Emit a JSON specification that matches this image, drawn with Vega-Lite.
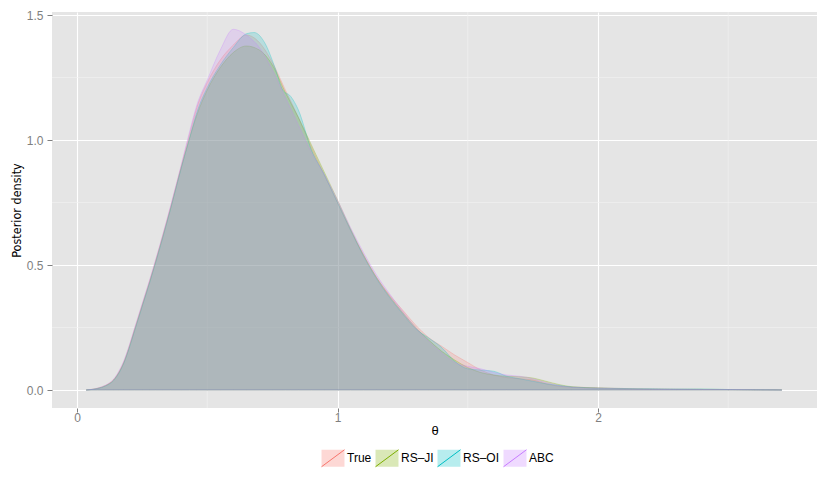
{
  "$schema": "https://vega.github.io/schema/vega-lite/v6.json",
  "width": 765,
  "height": 396,
  "autosize": {"type": "none"},
  "padding": {"left": 52, "top": 12, "right": 13, "bottom": 77},
  "background": "white",
  "config": {
    "view": {"fill": "#E5E5E5", "stroke": null},
    "font": "Liberation Sans"
  },
  "datasets": {
    "xminor": [{"v": 0.5}, {"v": 1.5}, {"v": 2.5}],
    "yminor": [{"v": 0.25}, {"v": 0.75}, {"v": 1.25}],
    "dens": [
      {"method": "True", "theta": 0.035, "density": 0},
      {"method": "True", "theta": 0.08, "density": 0.007},
      {"method": "True", "theta": 0.11, "density": 0.018},
      {"method": "True", "theta": 0.14, "density": 0.04},
      {"method": "True", "theta": 0.16, "density": 0.07},
      {"method": "True", "theta": 0.18, "density": 0.113},
      {"method": "True", "theta": 0.2, "density": 0.172},
      {"method": "True", "theta": 0.22, "density": 0.24},
      {"method": "True", "theta": 0.25, "density": 0.34},
      {"method": "True", "theta": 0.28, "density": 0.44},
      {"method": "True", "theta": 0.3, "density": 0.51},
      {"method": "True", "theta": 0.33, "density": 0.62},
      {"method": "True", "theta": 0.36, "density": 0.735},
      {"method": "True", "theta": 0.4, "density": 0.895},
      {"method": "True", "theta": 0.43, "density": 1.015},
      {"method": "True", "theta": 0.46, "density": 1.13},
      {"method": "True", "theta": 0.5, "density": 1.23},
      {"method": "True", "theta": 0.55, "density": 1.32},
      {"method": "True", "theta": 0.6, "density": 1.38},
      {"method": "True", "theta": 0.65, "density": 1.42},
      {"method": "True", "theta": 0.7, "density": 1.39},
      {"method": "True", "theta": 0.75, "density": 1.31},
      {"method": "True", "theta": 0.8, "density": 1.2},
      {"method": "True", "theta": 0.85, "density": 1.09},
      {"method": "True", "theta": 0.9, "density": 0.97},
      {"method": "True", "theta": 0.95, "density": 0.86},
      {"method": "True", "theta": 1.0, "density": 0.75},
      {"method": "True", "theta": 1.05, "density": 0.64},
      {"method": "True", "theta": 1.1, "density": 0.54},
      {"method": "True", "theta": 1.15, "density": 0.45},
      {"method": "True", "theta": 1.2, "density": 0.38},
      {"method": "True", "theta": 1.25, "density": 0.32},
      {"method": "True", "theta": 1.3, "density": 0.26},
      {"method": "True", "theta": 1.35, "density": 0.21},
      {"method": "True", "theta": 1.4, "density": 0.175},
      {"method": "True", "theta": 1.45, "density": 0.14},
      {"method": "True", "theta": 1.5, "density": 0.11},
      {"method": "True", "theta": 1.55, "density": 0.08},
      {"method": "True", "theta": 1.6, "density": 0.06},
      {"method": "True", "theta": 1.65, "density": 0.05},
      {"method": "True", "theta": 1.7, "density": 0.045},
      {"method": "True", "theta": 1.75, "density": 0.04},
      {"method": "True", "theta": 1.8, "density": 0.025},
      {"method": "True", "theta": 1.85, "density": 0.015},
      {"method": "True", "theta": 1.9, "density": 0.012},
      {"method": "True", "theta": 2.0, "density": 0.009},
      {"method": "True", "theta": 2.1, "density": 0.006},
      {"method": "True", "theta": 2.2, "density": 0.004},
      {"method": "True", "theta": 2.3, "density": 0.003},
      {"method": "True", "theta": 2.4, "density": 0.002},
      {"method": "True", "theta": 2.5, "density": 0.002},
      {"method": "True", "theta": 2.6, "density": 0.001},
      {"method": "True", "theta": 2.706, "density": 0},

      {"method": "RS–JI", "theta": 0.035, "density": 0},
      {"method": "RS–JI", "theta": 0.08, "density": 0.007},
      {"method": "RS–JI", "theta": 0.11, "density": 0.018},
      {"method": "RS–JI", "theta": 0.14, "density": 0.04},
      {"method": "RS–JI", "theta": 0.16, "density": 0.069},
      {"method": "RS–JI", "theta": 0.18, "density": 0.111},
      {"method": "RS–JI", "theta": 0.2, "density": 0.17},
      {"method": "RS–JI", "theta": 0.22, "density": 0.237},
      {"method": "RS–JI", "theta": 0.25, "density": 0.337},
      {"method": "RS–JI", "theta": 0.28, "density": 0.437},
      {"method": "RS–JI", "theta": 0.3, "density": 0.507},
      {"method": "RS–JI", "theta": 0.33, "density": 0.617},
      {"method": "RS–JI", "theta": 0.36, "density": 0.73},
      {"method": "RS–JI", "theta": 0.4, "density": 0.89},
      {"method": "RS–JI", "theta": 0.43, "density": 1.0},
      {"method": "RS–JI", "theta": 0.46, "density": 1.1},
      {"method": "RS–JI", "theta": 0.5, "density": 1.2},
      {"method": "RS–JI", "theta": 0.55, "density": 1.29},
      {"method": "RS–JI", "theta": 0.6, "density": 1.35},
      {"method": "RS–JI", "theta": 0.65, "density": 1.376},
      {"method": "RS–JI", "theta": 0.7, "density": 1.36},
      {"method": "RS–JI", "theta": 0.75, "density": 1.3},
      {"method": "RS–JI", "theta": 0.8, "density": 1.19},
      {"method": "RS–JI", "theta": 0.85, "density": 1.09},
      {"method": "RS–JI", "theta": 0.9, "density": 0.98},
      {"method": "RS–JI", "theta": 0.95, "density": 0.87},
      {"method": "RS–JI", "theta": 1.0, "density": 0.76},
      {"method": "RS–JI", "theta": 1.05, "density": 0.645},
      {"method": "RS–JI", "theta": 1.1, "density": 0.54},
      {"method": "RS–JI", "theta": 1.15, "density": 0.45},
      {"method": "RS–JI", "theta": 1.2, "density": 0.375},
      {"method": "RS–JI", "theta": 1.25, "density": 0.31},
      {"method": "RS–JI", "theta": 1.3, "density": 0.25},
      {"method": "RS–JI", "theta": 1.35, "density": 0.2},
      {"method": "RS–JI", "theta": 1.4, "density": 0.155},
      {"method": "RS–JI", "theta": 1.45, "density": 0.12},
      {"method": "RS–JI", "theta": 1.5, "density": 0.09},
      {"method": "RS–JI", "theta": 1.55, "density": 0.07},
      {"method": "RS–JI", "theta": 1.6, "density": 0.06},
      {"method": "RS–JI", "theta": 1.65, "density": 0.055},
      {"method": "RS–JI", "theta": 1.7, "density": 0.053},
      {"method": "RS–JI", "theta": 1.75, "density": 0.048},
      {"method": "RS–JI", "theta": 1.8, "density": 0.035},
      {"method": "RS–JI", "theta": 1.85, "density": 0.022},
      {"method": "RS–JI", "theta": 1.9, "density": 0.013},
      {"method": "RS–JI", "theta": 2.0, "density": 0.008},
      {"method": "RS–JI", "theta": 2.1, "density": 0.005},
      {"method": "RS–JI", "theta": 2.2, "density": 0.004},
      {"method": "RS–JI", "theta": 2.3, "density": 0.003},
      {"method": "RS–JI", "theta": 2.4, "density": 0.003},
      {"method": "RS–JI", "theta": 2.5, "density": 0.002},
      {"method": "RS–JI", "theta": 2.6, "density": 0.001},
      {"method": "RS–JI", "theta": 2.706, "density": 0},

      {"method": "RS–OI", "theta": 0.035, "density": 0},
      {"method": "RS–OI", "theta": 0.08, "density": 0.006},
      {"method": "RS–OI", "theta": 0.11, "density": 0.016},
      {"method": "RS–OI", "theta": 0.14, "density": 0.037},
      {"method": "RS–OI", "theta": 0.16, "density": 0.066},
      {"method": "RS–OI", "theta": 0.18, "density": 0.108},
      {"method": "RS–OI", "theta": 0.2, "density": 0.166},
      {"method": "RS–OI", "theta": 0.22, "density": 0.233},
      {"method": "RS–OI", "theta": 0.25, "density": 0.333},
      {"method": "RS–OI", "theta": 0.28, "density": 0.433},
      {"method": "RS–OI", "theta": 0.3, "density": 0.503},
      {"method": "RS–OI", "theta": 0.33, "density": 0.612},
      {"method": "RS–OI", "theta": 0.36, "density": 0.727},
      {"method": "RS–OI", "theta": 0.4, "density": 0.887},
      {"method": "RS–OI", "theta": 0.43, "density": 1.0},
      {"method": "RS–OI", "theta": 0.46, "density": 1.11},
      {"method": "RS–OI", "theta": 0.5, "density": 1.21},
      {"method": "RS–OI", "theta": 0.55, "density": 1.3},
      {"method": "RS–OI", "theta": 0.6, "density": 1.37},
      {"method": "RS–OI", "theta": 0.65, "density": 1.425},
      {"method": "RS–OI", "theta": 0.68, "density": 1.43},
      {"method": "RS–OI", "theta": 0.72, "density": 1.39},
      {"method": "RS–OI", "theta": 0.76, "density": 1.29},
      {"method": "RS–OI", "theta": 0.79, "density": 1.2},
      {"method": "RS–OI", "theta": 0.82, "density": 1.175},
      {"method": "RS–OI", "theta": 0.85, "density": 1.12},
      {"method": "RS–OI", "theta": 0.9, "density": 0.96},
      {"method": "RS–OI", "theta": 0.95, "density": 0.86},
      {"method": "RS–OI", "theta": 1.0, "density": 0.75},
      {"method": "RS–OI", "theta": 1.05, "density": 0.64},
      {"method": "RS–OI", "theta": 1.1, "density": 0.535},
      {"method": "RS–OI", "theta": 1.15, "density": 0.445},
      {"method": "RS–OI", "theta": 1.2, "density": 0.37},
      {"method": "RS–OI", "theta": 1.25, "density": 0.305},
      {"method": "RS–OI", "theta": 1.3, "density": 0.245},
      {"method": "RS–OI", "theta": 1.35, "density": 0.208},
      {"method": "RS–OI", "theta": 1.4, "density": 0.17},
      {"method": "RS–OI", "theta": 1.45, "density": 0.115},
      {"method": "RS–OI", "theta": 1.5, "density": 0.085},
      {"method": "RS–OI", "theta": 1.55, "density": 0.08},
      {"method": "RS–OI", "theta": 1.6, "density": 0.075},
      {"method": "RS–OI", "theta": 1.65, "density": 0.055},
      {"method": "RS–OI", "theta": 1.7, "density": 0.045},
      {"method": "RS–OI", "theta": 1.75, "density": 0.035},
      {"method": "RS–OI", "theta": 1.8, "density": 0.025},
      {"method": "RS–OI", "theta": 1.85, "density": 0.018},
      {"method": "RS–OI", "theta": 1.9, "density": 0.012},
      {"method": "RS–OI", "theta": 2.0, "density": 0.008},
      {"method": "RS–OI", "theta": 2.1, "density": 0.006},
      {"method": "RS–OI", "theta": 2.2, "density": 0.005},
      {"method": "RS–OI", "theta": 2.3, "density": 0.004},
      {"method": "RS–OI", "theta": 2.4, "density": 0.004},
      {"method": "RS–OI", "theta": 2.5, "density": 0.002},
      {"method": "RS–OI", "theta": 2.6, "density": 0.001},
      {"method": "RS–OI", "theta": 2.706, "density": 0},

      {"method": "ABC", "theta": 0.035, "density": 0},
      {"method": "ABC", "theta": 0.08, "density": 0.008},
      {"method": "ABC", "theta": 0.11, "density": 0.02},
      {"method": "ABC", "theta": 0.14, "density": 0.043},
      {"method": "ABC", "theta": 0.16, "density": 0.074},
      {"method": "ABC", "theta": 0.18, "density": 0.118},
      {"method": "ABC", "theta": 0.2, "density": 0.177},
      {"method": "ABC", "theta": 0.22, "density": 0.245},
      {"method": "ABC", "theta": 0.25, "density": 0.345},
      {"method": "ABC", "theta": 0.28, "density": 0.445},
      {"method": "ABC", "theta": 0.3, "density": 0.515},
      {"method": "ABC", "theta": 0.33, "density": 0.625},
      {"method": "ABC", "theta": 0.36, "density": 0.74},
      {"method": "ABC", "theta": 0.4, "density": 0.9},
      {"method": "ABC", "theta": 0.43, "density": 1.025},
      {"method": "ABC", "theta": 0.46, "density": 1.14},
      {"method": "ABC", "theta": 0.5, "density": 1.24},
      {"method": "ABC", "theta": 0.55, "density": 1.36},
      {"method": "ABC", "theta": 0.6, "density": 1.443},
      {"method": "ABC", "theta": 0.65, "density": 1.42},
      {"method": "ABC", "theta": 0.7, "density": 1.37},
      {"method": "ABC", "theta": 0.75, "density": 1.28},
      {"method": "ABC", "theta": 0.8, "density": 1.17},
      {"method": "ABC", "theta": 0.85, "density": 1.06},
      {"method": "ABC", "theta": 0.9, "density": 0.95},
      {"method": "ABC", "theta": 0.95, "density": 0.86},
      {"method": "ABC", "theta": 1.0, "density": 0.76},
      {"method": "ABC", "theta": 1.05, "density": 0.65},
      {"method": "ABC", "theta": 1.1, "density": 0.55},
      {"method": "ABC", "theta": 1.15, "density": 0.46},
      {"method": "ABC", "theta": 1.2, "density": 0.385},
      {"method": "ABC", "theta": 1.25, "density": 0.315},
      {"method": "ABC", "theta": 1.3, "density": 0.25},
      {"method": "ABC", "theta": 1.35, "density": 0.195},
      {"method": "ABC", "theta": 1.4, "density": 0.15},
      {"method": "ABC", "theta": 1.45, "density": 0.11},
      {"method": "ABC", "theta": 1.5, "density": 0.095},
      {"method": "ABC", "theta": 1.55, "density": 0.085},
      {"method": "ABC", "theta": 1.6, "density": 0.07},
      {"method": "ABC", "theta": 1.65, "density": 0.06},
      {"method": "ABC", "theta": 1.7, "density": 0.055},
      {"method": "ABC", "theta": 1.75, "density": 0.045},
      {"method": "ABC", "theta": 1.8, "density": 0.03},
      {"method": "ABC", "theta": 1.85, "density": 0.018},
      {"method": "ABC", "theta": 1.9, "density": 0.011},
      {"method": "ABC", "theta": 2.0, "density": 0.007},
      {"method": "ABC", "theta": 2.1, "density": 0.005},
      {"method": "ABC", "theta": 2.2, "density": 0.004},
      {"method": "ABC", "theta": 2.3, "density": 0.003},
      {"method": "ABC", "theta": 2.4, "density": 0.002},
      {"method": "ABC", "theta": 2.5, "density": 0.002},
      {"method": "ABC", "theta": 2.6, "density": 0.001},
      {"method": "ABC", "theta": 2.706, "density": 0}
    ]
  },
  "layer": [
    {
      "data": {"name": "xminor"},
      "mark": {"type": "rule", "color": "#F2F2F2", "strokeWidth": 0.6},
      "encoding": {
        "x": {"field": "v", "type": "quantitative", "title": "θ",
              "scale": {"domain": [-0.096, 2.8407], "nice": false, "zero": false}}
      }
    },
    {
      "data": {"name": "yminor"},
      "mark": {"type": "rule", "color": "#F2F2F2", "strokeWidth": 0.6},
      "encoding": {
        "y": {"field": "v", "type": "quantitative", "title": "Posterior density",
              "scale": {"domain": [-0.072, 1.512], "nice": false, "zero": false}}
      }
    },
    {
      "data": {"name": "dens"},
      "mark": {"type": "area", "interpolate": "monotone", "fillOpacity": 0.2,
               "strokeOpacity": 0.45, "strokeWidth": 0.6},
      "encoding": {
        "x": {"field": "theta", "type": "quantitative", "title": "θ",
              "scale": {"domain": [-0.096, 2.8407], "nice": false, "zero": false},
              "axis": {"values": [0, 1, 2], "format": "d", "grid": true, "gridColor": "white", "gridWidth": 1.1,
                       "domain": false, "tickColor": "#7F7F7F", "tickSize": 4, "tickWidth": 1,
                       "labelColor": "#7F7F7F", "labelFontSize": 12, "labelPadding": 0,
                       "titleFont": "Liberation Sans", "titleFontSize": 13, "titleFontWeight": "normal",
                       "titleColor": "black", "titlePadding": 1}},
        "y": {"field": "density", "type": "quantitative", "title": "Posterior density",
              "scale": {"domain": [-0.072, 1.512], "nice": false, "zero": false},
              "axis": {"values": [0, 0.5, 1, 1.5], "format": ".1f", "grid": true, "gridColor": "white", "gridWidth": 1.1,
                       "domain": false, "tickColor": "#7F7F7F", "tickSize": 5, "tickWidth": 1,
                       "labelColor": "#7F7F7F", "labelFontSize": 12, "labelPadding": 4,
                       "titleFont": "Liberation Sans Narrow, DejaVu Sans Condensed, Liberation Sans", "titleFontSize": 12.5, "titleFontWeight": "normal",
                       "titleColor": "black", "titlePadding": 3}},
        "y2": {"datum": 0},
        "fill": {"field": "method", "type": "nominal",
                 "scale": {"domain": ["True", "RS–JI", "RS–OI", "ABC"],
                           "range": ["#F8766D", "#7CAE00", "#00BFC4", "#C77CFF"]},
                 "legend": {"orient": "none", "direction": "horizontal", "legendX": 272, "legendY": 437,
                            "title": null, "padding": 0, "symbolType": "M-1.35,-1H1.35V1H-1.35Z",
                            "symbolSize": 289, "symbolOpacity": 0.28, "symbolStrokeWidth": 1,
                            "symbolStrokeColor": "transparent",
                            "labelFont": "Liberation Sans", "labelFontSize": 12, "labelColor": "black",
                            "labelOffset": 5, "columnPadding": 1, "labelLimit": 200}},
        "stroke": {"field": "method", "type": "nominal", "sort": ["True", "RS–JI", "RS–OI", "ABC"],
                   "scale": {"range": ["#F8766D", "#7CAE00", "#00BFC4", "#C77CFF"]},
                   "legend": {"orient": "none", "direction": "horizontal", "legendX": 272, "legendY": 437,
                              "title": null, "padding": 0, "symbolType": "M-1.35,1L1.35,-1",
                              "symbolSize": 289, "symbolOpacity": 1, "symbolStrokeWidth": 1,
                              "symbolFillColor": "transparent",
                              "labelFont": "Liberation Sans", "labelFontSize": 12, "labelColor": "transparent",
                              "labelOffset": 5, "columnPadding": 1, "labelLimit": 200}}
      }
    }
  ],
  "resolve": {"scale": {"fill": "independent", "stroke": "independent"}}
}
